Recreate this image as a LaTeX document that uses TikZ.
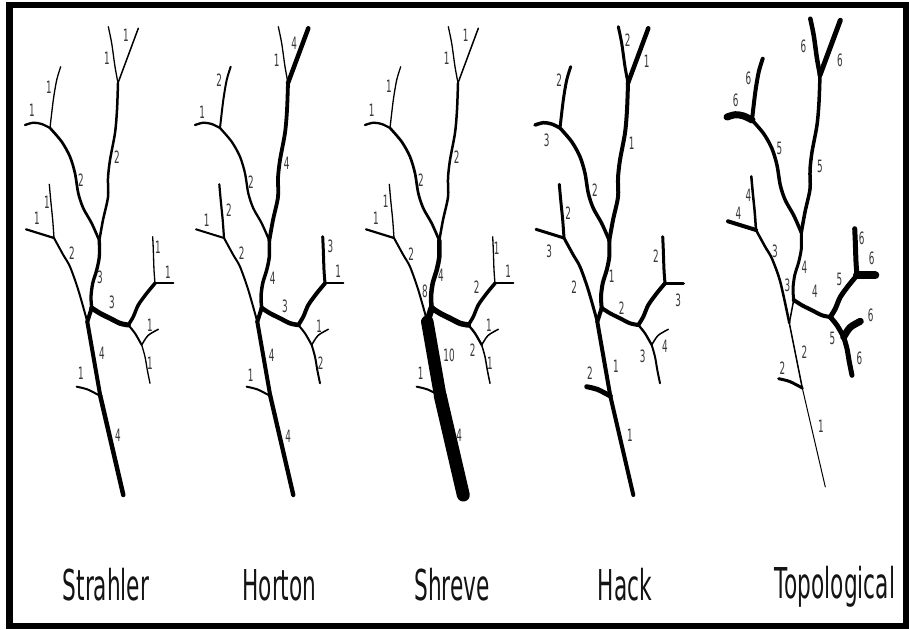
\documentclass[tikz,border=0pt]{standalone}
\usepackage{fontspec}
\newfontfamily\labfont[FakeStretch=0.52]{DejaVu Sans}
\newfontfamily\titlefont[FakeStretch=0.51]{DejaVu Sans}
\tikzset{
  riv/.style={draw=black, line cap=round, line join=round},
  lab/.style={font=\labfont\fontsize{17}{17}\selectfont, text=black!78, inner sep=0pt},
  ttl/.style={font=\titlefont\fontsize{42.5}{42.5}\selectfont, text=black!92, inner sep=0pt, anchor=base},
}
% stroke widths of the river segments, set per tree
\newcommand\wtop[7]{\tikzset{twA/.style={line width=#1pt},twB/.style={line width=#2pt},trA/.style={line width=#3pt},twC/.style={line width=#4pt},twD/.style={line width=#5pt},brA/.style={line width=#6pt},trB/.style={line width=#7pt}}}
\newcommand\wmid[7]{\tikzset{twE/.style={line width=#1pt},twF/.style={line width=#2pt},brB/.style={line width=#3pt},trC/.style={line width=#4pt},trD/.style={line width=#5pt},twK/.style={line width=#6pt},trE/.style={line width=#7pt}}}
\newcommand\wright[7]{\tikzset{brC/.style={line width=#1pt},brD/.style={line width=#2pt},twL/.style={line width=#3pt},twM/.style={line width=#4pt},brE/.style={line width=#5pt},twP/.style={line width=#6pt},twN/.style={line width=#7pt}}}
% one river network: #1 name prefix, #2/#3 shift, #4 height of the lower left confluence
\newcommand\rivertree[4]{%
\begin{scope}[shift={(#2,#3)}]
  \coordinate (#1A) at (108.3,26.7);
  \coordinate (#1B) at (138.3,28.3);
  \coordinate (#1J1) at (118,83);
  \coordinate (#1C) at (60.7,66.7);
  \coordinate (#1D) at (25,125);
  \coordinate (#1J3) at (50,128);
  \coordinate (#1J2) at (99.3,240.5);
  \coordinate (#1J4) at (91.7,308);
  \coordinate (#1E) at (49.3,184.3);
  \coordinate (#1F) at (26,229.3);
  \coordinate (#1J5) at (54,238);
  \coordinate (#1J6) at (87.3,#4);
  \coordinate (#1K) at (76.7,386.7);
  \coordinate (#1G) at (100.3,396);
  \coordinate (#1H) at (123.3,495);
  \coordinate (#1J7) at (128.3,325);
  \coordinate (#1J8) at (155,283.3);
  \coordinate (#1L) at (152.7,236.7);
  \coordinate (#1M) at (173.3,283.3);
  \coordinate (#1J9) at (141.7,345);
  \coordinate (#1P) at (158.3,329.3);
  \coordinate (#1N) at (150,383.3);
  % upper sources and main stem
  \draw[riv,twA] plot[smooth] coordinates {(#1A) (111.7,43.3) (115,66.7) (#1J1)};
  \draw[riv,twB] (#1B) -- (#1J1);
  \draw[riv,trA] plot[smooth] coordinates {(#1J1) (117,110) (115,133) (110,160) (108,178) (108,197) (103,220) (#1J2)};
  \draw[riv,twC] plot[smooth] coordinates {(#1C) (56.7,80) (53.3,100) (#1J3)};
  \draw[riv,twD] plot[smooth] coordinates {(#1D) (33.3,122.7) (41.7,124) (#1J3)};
  \draw[riv,brA] plot[smooth] coordinates {(#1J3) (61.7,141.7) (70,156.7) (75,173.3) (78.3,193.3) (83.3,208.3) (91.7,223.3) (#1J2)};
  \draw[riv,trB] plot[smooth] coordinates {(#1J2) (99.3,256.7) (96.7,270) (92.7,283.3) (91,296.7) (#1J4)};
  % lower left tributary
  \draw[riv,twE] plot[smooth] coordinates {(#1E) (50.7,200) (52.7,220) (#1J5)};
  \draw[riv,twF] (#1F) -- (#1J5);
  \draw[riv,brB] plot[smooth] coordinates {(#1J5) (63.3,255) (70,266.7) (78.3,290) (#1J6)};
  \draw[riv,trC] (#1J4) -- (#1J6);
  % outlet reach
  \draw[riv,trD] (#1J6) -- (#1G);
  \draw[riv,twK] plot[smooth] coordinates {(#1K) (87.7,389.5) (#1G)};
  \draw[riv,trE] (#1G) -- (#1H);
  % right tributary
  \draw[riv,brC] plot[smooth] coordinates {(#1J4) (100,313.3) (110,318.3) (120,323.3) (#1J7)};
  \draw[riv,brD] plot[smooth] coordinates {(#1J7) (133.3,316.7) (138.3,305) (146.7,293.3) (#1J8)};
  \draw[riv,twL] plot[smooth] coordinates {(#1L) (153.3,250) (154,270) (#1J8)};
  \draw[riv,twM] (#1M) -- (#1J8);
  \draw[riv,brE] plot[smooth] coordinates {(#1J7) (135,333.3) (#1J9)};
  \draw[riv,twP] plot[smooth] coordinates {(#1J9) (148,335.5) (#1P)};
  \draw[riv,twN] plot[smooth] coordinates {(#1J9) (145,356.7) (147.3,370) (#1N)};
\end{scope}}

\begin{document}
\begin{tikzpicture}[x=1pt,y=-1pt]
\useasboundingbox (0,0) rectangle (909,629);
\fill[white] (0,0) rectangle (909,629);

% Strahler
\begin{scope}
  \wtop{1.3}{1.5}{2.5}{1.3}{2.3}{2.7}{3.3}
  \wmid{1.3}{2.2}{2}{4}{4}{2}{4.5}
  \wright{5}{3.5}{1.3}{2}{2}{1.5}{1.3}
  \rivertree{st}{0}{0}{321.7}
\end{scope}
\foreach \x/\y/\t [count=\i] in {126/35/1, 107/58/1, 49/87/1, 32/110/1, 117/157/2, 81/180/2,
  47/202/1, 37/218/1, 72/253/2, 158/247/1, 168/272/1, 100/277/3, 112/302/3, 150/325/1,
  150/363/1, 102/353/4, 81/373/1, 118/435/4}
  \node[lab] (sl\i) at (\x,\y) {\t};

% Horton
\begin{scope}
  \wtop{1.3}{4.5}{3.8}{2}{2.3}{2.3}{3.5}
  \wmid{2.2}{2}{2}{4}{4}{2}{4.3}
  \wright{4.5}{4}{3}{2}{2}{1.5}{2}
  \rivertree{ho}{170}{0}{321.7}
\end{scope}
\foreach \x/\y/\t [count=\i] in {294.3/43.3/4, 276.7/60/1, 219.3/80/2, 202.3/112.3/1,
  286.7/163.3/4, 251/181.7/2, 229/210/2, 206.7/220/1, 241.7/253/2, 330.5/246/3,
  272.7/278.3/4, 285/306.5/3, 338.3/271.7/1, 319.3/326.7/1, 320.7/363.3/2, 271.7/355/4,
  250.7/375/1, 288.3/436.7/4}
  \node[lab] (hl\i) at (\x,\y) {\t};

% Shreve
\begin{scope}
  \wtop{1.3}{1.5}{2.5}{1.3}{2.3}{2.7}{4.5}
  \wmid{1.3}{2.2}{2}{6.5}{12.5}{2}{13}
  \wright{5.5}{3.5}{1.3}{2}{2.3}{1.5}{1.5}
  \rivertree{sh}{340}{0}{321.7}
\end{scope}
\foreach \x/\y/\t [count=\i] in {465.7/35/1, 446.7/58.3/1, 389/86.7/1, 371.7/110/1,
  456.7/156.7/2, 421/180/2, 385.7/201.7/1, 376/218.3/1, 411.3/254/2, 496.7/248.3/1,
  441/275/4, 425/291.7/8, 508.3/271.7/1, 476.7/286.7/2, 489/325/1, 472.7/350/2,
  490/363.3/1, 449/355/10, 420.7/373.3/1, 459.3/435/4}
  \node[lab] (rl\i) at (\x,\y) {\t};

% Hack
\begin{scope}
  \wtop{3}{4.5}{4}{3}{3.5}{3.5}{4}
  \wmid{3}{3}{3}{4}{4}{5}{4}
  \wright{4}{4}{3}{3.5}{2.3}{1.5}{2}
  \rivertree{ha}{510}{0}{321.7}
\end{scope}
\foreach \x/\y/\t [count=\i] in {627.7/40/2, 646.7/61.7/1, 559.3/80/2, 546.7/140/3,
  631.7/143.3/1, 595/190/2, 568.3/213.3/2, 549.3/251.7/3, 656/256.5/2, 574.3/286.7/2,
  611.7/276.7/1, 621.7/308.3/2, 678.3/300/3, 665/346.7/4, 642.7/356.7/3, 590/373.3/2,
  616/366.7/1, 630/435/1}
  \node[lab] (kl\i) at (\x,\y) {\t};

% Topological
\begin{scope}
  \wtop{4.5}{5}{3.5}{4}{7}{3.5}{3}
  \wmid{2.5}{4}{2.5}{1.5}{1.5}{3}{1}
  \wright{4}{5}{5}{8}{5}{7}{5}
  \rivertree{tp}{702}{-8}{331}
\end{scope}
\foreach \x/\y/\t [count=\i] in {803.3/46.7/6, 840/60/6, 748.3/78.3/6, 735.7/100/6,
  779.3/148.3/5, 820/166.7/5, 748.3/195/4, 738.3/213.3/4, 775/251/3, 861.7/238.3/6,
  871.7/258.5/6, 804.3/267.3/4, 787.3/285/3, 815/291.7/4, 839.3/279.3/5, 870.7/315/6,
  832.3/338.3/5, 859.3/358.3/6, 804.3/351.7/2, 782.3/368.3/2, 821/426.7/1}
  \node[lab] (pl\i) at (\x,\y) {\t};

% method names
\node[ttl] (tStrahler) at (106,600) {Strahler};
\node[ttl] (tHorton) at (279.5,600) {Horton};
\node[ttl] (tShreve) at (452,600) {Shreve};
\node[ttl] (tHack) at (625,600) {Hack};
\node[ttl] (tTopo) at (835,598) {Topological};

% frame
\draw[line width=6.5pt] (9.5,5) rectangle (906,626);
\end{tikzpicture}
\end{document}
